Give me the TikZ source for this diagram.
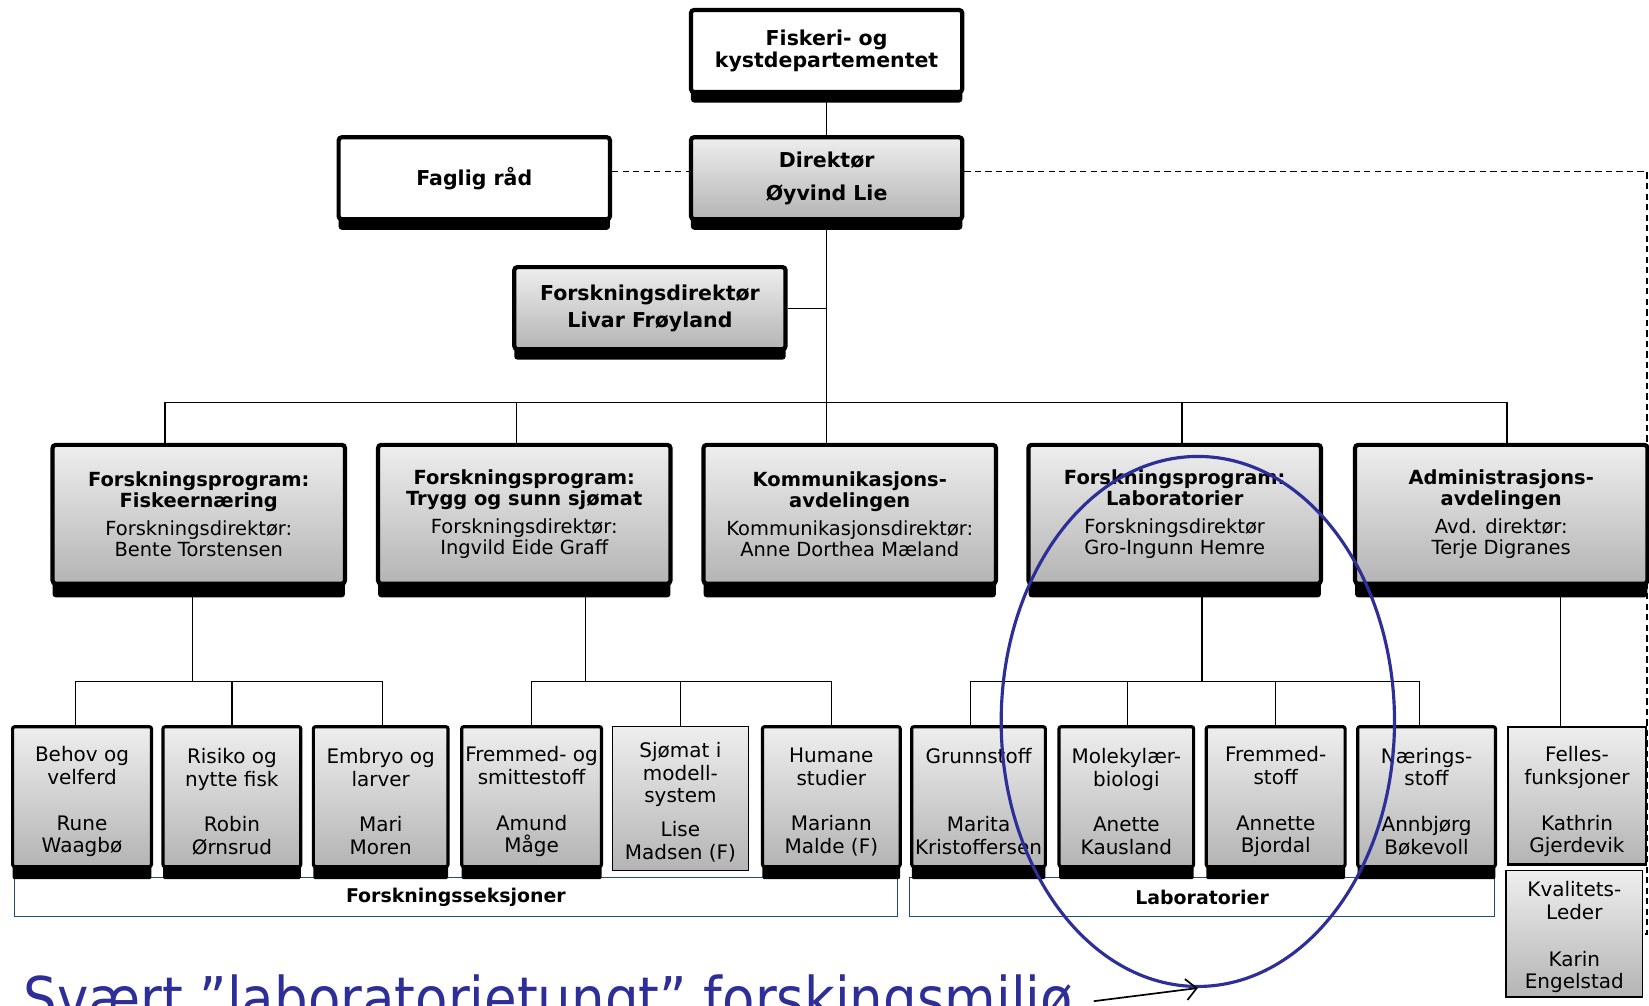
\documentclass[tikz,border=0pt]{standalone}
\usepackage{fontspec}
\setmainfont{DejaVu Sans}
\newfontfamily\notefont[FakeStretch=0.9]{DejaVu Sans}
\usetikzlibrary{shadows,shapes.geometric,arrows.meta,backgrounds}
\definecolor{box-top}{HTML}{EEEEEE}
\definecolor{box-bottom}{HTML}{B4B4B4}
\definecolor{mark-blue}{HTML}{2E2E98}
\definecolor{frame-blue}{HTML}{1F4E79}
\newcommand{\lift}[1][24pt]{\rule{0pt}{#1}}

\begin{document}
\begin{tikzpicture}[x=1pt, y=-1pt,
    every node/.style={align=center, inner sep=0pt},
    greybox/.style={top color=box-top, bottom color=box-bottom},
    topbox/.style={draw=black, line width=4pt, rounded corners=3pt,
      minimum width=258pt, minimum height=78pt,
      general shadow={fill=black, shadow yshift=-10pt},
      font=\fontsize{19.5}{21}\selectfont\bfseries},
    progbox/.style={draw=black, line width=4pt, rounded corners=3pt, greybox,
      minimum width=278pt, minimum height=132pt,
      general shadow={fill=black, shadow yshift=-13pt},
      font=\fontsize{18.5}{20}\selectfont},
    secbox/.style={draw=black, line width=3pt, rounded corners=2pt, greybox,
      minimum height=133pt,
      general shadow={fill=black, shadow yshift=-12pt},
      font=\fontsize{19}{21.5}\selectfont},
    flatbox/.style={draw=black, line width=1pt, greybox,
      font=\fontsize{19}{21.5}\selectfont},
    grpframe/.style={draw=frame-blue, line width=1pt, minimum height=37pt,
      font=\fontsize{18}{20}\selectfont\bfseries},
    link/.style={line width=1.2pt},
    staff/.style={line width=1.2pt, dash pattern=on 6pt off 4pt},
    pointer/.style={-{Straight Barb[length=10pt,width=20pt]}, line width=1.6pt}]
  \useasboundingbox (0,0) rectangle (1568,956);

  % top of the chart
  \node[topbox, fill=white] (DEP) at (786,48.5) {Fiskeri- og\\kystdepartementet};
  \node[topbox, greybox] (DIR) at (786,169.5) {Direktør\\[10pt]Øyvind Lie};
  \node[topbox, fill=white] (FR) at (451,169.5) {Faglig råd};
  \node[topbox, greybox] (FD) at (618,293) {Forskningsdirektør\\[5pt]Livar Frøyland};

  % programmes and departments
  \node[progbox] (P1) at (189,489) {\textbf{Forskningsprogram:}\\\textbf{Fiskeernæring}\\[7pt]Forskningsdirektør:\\Bente Torstensen};
  \node[progbox] (P2) at (498.5,489) {\textbf{Forskningsprogram:}\\\textbf{Trygg og sunn sjømat}\\[7pt]Forskningsdirektør:\\Ingvild Eide Graff};
  \node[progbox] (P3) at (808,489) {\textbf{Kommunikasjons-}\\\textbf{avdelingen}\\[7pt]Kommunikasjonsdirektør:\\Anne Dorthea Mæland};
  \node[progbox] (P4) at (1117,489) {\textbf{Forskningsprogram:}\\\textbf{Laboratorier}\\[7pt]Forskningsdirektør\\Gro-Ingunn Hemre};
  \node[progbox] (P5) at (1427.5,489) {\textbf{Administrasjons-}\\\textbf{avdelingen}\\[7pt]Avd. direktør:\\Terje Digranes};

  % group frames under the sections
  \node[grpframe, minimum width=839pt] (SEK) at (433.5,853) {Forskningsseksjoner};
  \node[grpframe, minimum width=556pt] (LAB) at (1143,853) {Laboratorier};

  % sections and labs
  \node[secbox, minimum width=132pt] (S1) at (78,757.5) {\lift Behov og\\velferd\\[22pt]Rune\\Waagbø};
  \node[secbox, minimum width=131pt] (S2) at (220.5,757.5) {\lift Risiko og\\nytte fisk\\[22pt]Robin\\Ørnsrud};
  \node[secbox, minimum width=128pt] (S3) at (362,757.5) {\lift Embryo og\\larver\\[22pt]Mari\\Moren};
  \node[secbox, minimum width=133pt] (S4) at (505.5,757.5) {\lift Fremmed- og\\smittestoff\\[22pt]Amund\\Måge};
  \node[flatbox, minimum width=130pt, minimum height=137pt] (S5) at (647,759.5) {\lift[21pt]Sjømat i\\modell-\\system\\[11pt]Lise\\Madsen (F)};
  \node[secbox, minimum width=131pt] (S6) at (790.5,757.5) {\lift Humane\\studier\\[22pt]Mariann\\Malde (F)};
  \node[secbox, minimum width=127pt] (S7) at (930.5,757.5) {\lift Grunnstoff\\~\\[22pt]Marita\\Kristoffersen};
  \node[secbox, minimum width=128pt] (S8) at (1071,757.5) {\lift Molekylær-\\biologi\\[22pt]Anette\\Kausland};
  \node[secbox, minimum width=132pt] (S9) at (1213,757.5) {\lift Fremmed-\\stoff\\[22pt]Annette\\Bjordal};
  \node[secbox, minimum width=131pt] (S10) at (1356.5,757.5) {\lift Nærings-\\stoff\\[22pt]Annbjørg\\Bøkevoll};
  \node[flatbox, line width=2pt, minimum width=131pt, minimum height=131pt] (S11) at (1499.5,756.5) {\lift[26.5pt]Felles-\\funksjoner\\[22pt]Kathrin\\Gjerdevik};
  \node[flatbox, minimum width=130pt, minimum height=120pt] (S12) at (1497,888) {\lift[21pt]Kvalitets-\\Leder\\[23pt]Karin\\Engelstad};

  \begin{pgfonlayer}{background}
    \draw[link] (DEP) -- (DIR);
    \draw[staff] ([yshift=6.5pt]FR.east) -- ([yshift=6.5pt]DIR.west);
    \coordinate (staffR) at (1566,163);
    \draw[staff] ([yshift=6.5pt]DIR.east) -- (staffR) |- (S12.east);
    \draw[link] (DIR.south) -- (DIR.south |- P3.north);
    \draw[link] (FD.east) -- (FD.east -| DIR.south);
    \coordinate (bus) at (DIR.south |- 0,383);
    \foreach \n/\s in {P1/-32, P2/-7.5, P4/7, P5/5.5}
      \draw[link] (bus) -| ([xshift=\s pt]\n.north);
    % second level
    \coordinate (j1) at ([xshift=-6pt]P1.south |- 0,648);
    \draw[link] ([xshift=-6pt]P1.south) -- (j1);
    \foreach \n/\s in {S1/-6, S2/0, S3/2}
      \draw[link] (j1) -| ([xshift=\s pt]\n.north);
    \coordinate (j2) at ([xshift=58.5pt]P2.south |- 0,648);
    \draw[link] ([xshift=58.5pt]P2.south) -- (j2);
    \foreach \n in {S4, S5, S6}
      \draw[link] (j2) -| (\n.north);
    \coordinate (j4) at ([xshift=26pt]P4.south |- 0,648);
    \draw[link] ([xshift=26pt]P4.south) -- (j4);
    \foreach \n/\s in {S7/-7.5, S8/1, S9/0, S10/-6.5}
      \draw[link] (j4) -| ([xshift=\s pt]\n.north);
    \draw[link] ([xshift=56.5pt]P5.south) -- ([xshift=-15.5pt]S11.north);
  \end{pgfonlayer}

  % remark
  \node[draw=mark-blue, line width=3pt, ellipse, minimum width=374pt, minimum height=504pt] (RING) at (1139,686) {};
  \node[anchor=base west, text=mark-blue, font=\notefont\fontsize{56}{60}\selectfont] (NOTE) at (22,969) {Svært ”laboratorietungt” forskingsmiljø};
  \coordinate (noteEnd) at (1040,952);
  \draw[pointer] (noteEnd) -- (RING.south);
\end{tikzpicture}
\end{document}
